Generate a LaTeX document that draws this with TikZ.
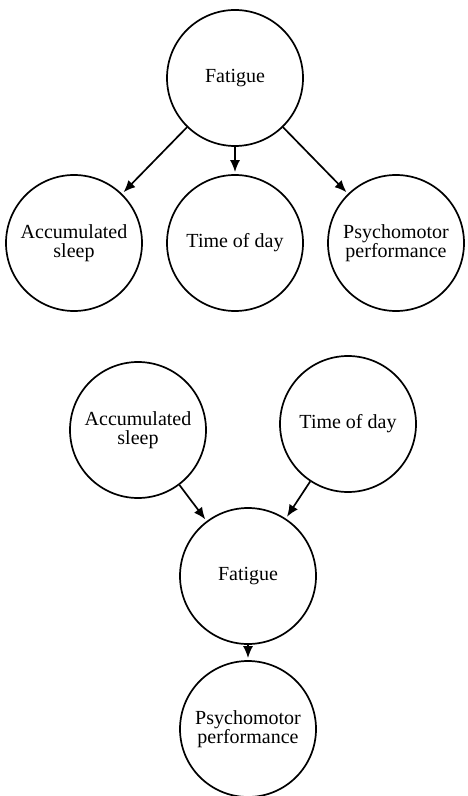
\documentclass[tikz,border=0pt]{standalone}
\usepackage{fontspec}
\setmainfont{Liberation Serif}
\usetikzlibrary{arrows.meta}
\begin{document}
\begin{tikzpicture}[x=0.5pt, y=-0.5pt,
  var/.style={draw, circle, line width=0.85pt, minimum size=68pt, inner sep=1pt, align=center, font=\fontsize{10}{9.5}\selectfont},
  arr/.style={draw, line width=0.85pt, -{Latex[length=6pt,width=5pt]}, shorten >=1pt},
  level/.style={sibling distance=80.5pt, level distance=82.5pt},
  edge from parent/.style={arr}]
\useasboundingbox (0,0) rectangle (467,796);
% fatigue as common cause
\node [var] (fatA) at (235,78) {Fatigue}
  child {node [var] (sleepA) {Accumulated\\sleep}}
  child {node [var] (timeA) {Time of day}}
  child {node [var] (perfA) {Psychomotor\\performance}};
% fatigue as mediator
\node [var] (sleepB) at (138,430) {Accumulated\\sleep};
\node [var] (timeB) at (348,424) {Time of day};
\node [var] (fatB) at (248,576) {Fatigue}
  child [level distance=76.5pt] {node [var] (perfB) {Psychomotor\\performance}};
\draw [arr] (sleepB) -- (fatB);
\draw [arr] (timeB) -- (fatB);
\end{tikzpicture}
\end{document}
